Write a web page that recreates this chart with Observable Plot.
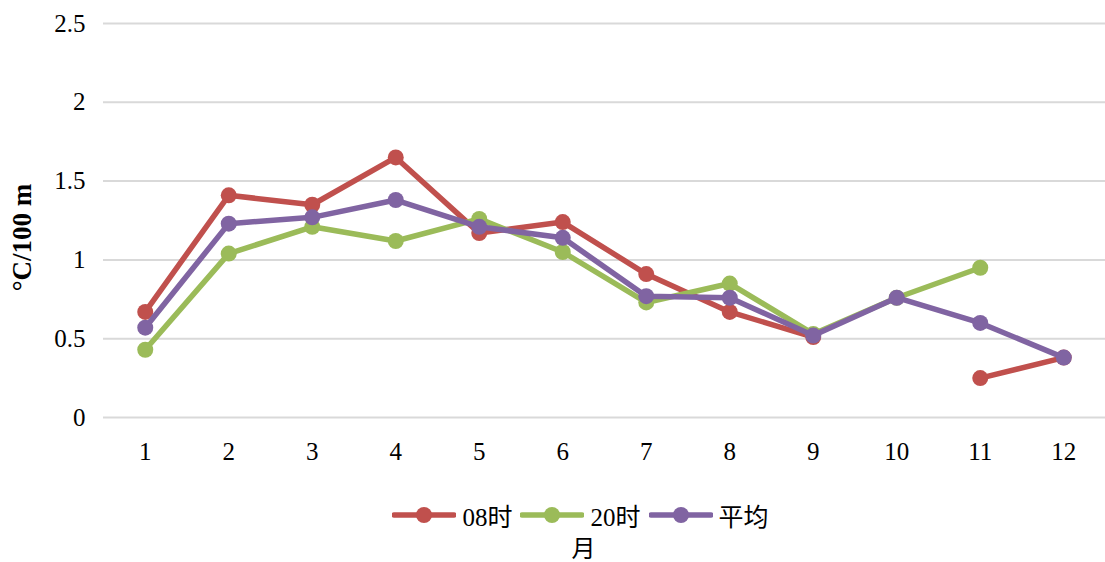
<!DOCTYPE html>
<html>
<head>
<meta charset="utf-8">
<script src="https://cdn.jsdelivr.net/npm/d3@7"></script>
<script src="https://cdn.jsdelivr.net/npm/@observablehq/plot@0.6"></script>
<style>
  html, body { margin: 0; padding: 0; background: #fff; }
  body { width: 1105px; font-family: "Liberation Serif", "Noto Sans CJK SC", serif; }
  #legend { display: flex; justify-content: center; align-items: center; margin-top: 22px; height: 36px; font-size: 25px; padding-left: 56px; }
  .item { display: flex; align-items: center; margin: 0 4px; }
  .item svg { margin-right: 6px; }
  #xlabel { text-align: center; font-size: 24px; margin-top: -4px; padding-left: 62px; font-family: "Noto Sans CJK SC", serif; }
</style>
</head>
<body>
<div id="chart"></div>
<div id="legend"></div>
<div id="xlabel"></div>
<script>
const months = [1, 2, 3, 4, 5, 6, 7, 8, 9, 10, 11, 12];
const seriesNames = ["08时", "20时", "平均"];
const seriesColors = ["#C0504D", "#9BBB59", "#8064A2"];
const v08 = [0.67, 1.41, 1.35, 1.65, 1.17, 1.24, 0.91, 0.67, 0.51, null, 0.25, 0.38];
const v20 = [0.43, 1.04, 1.21, 1.12, 1.26, 1.05, 0.73, 0.85, 0.53, 0.76, 0.95, null];
const vAvg = [0.57, 1.23, 1.27, 1.38, 1.21, 1.14, 0.77, 0.76, 0.52, 0.76, 0.60, 0.38];
const yTicks = [0, 0.5, 1, 1.5, 2, 2.5];
const yLabel = "°C/100 m";
const xLabel = "月";

const seriesValues = [v08, v20, vAvg];
const marks = [
  Plot.gridY(yTicks, {stroke: "#d9d9d9", strokeOpacity: 1, strokeWidth: 2}),
  Plot.axisY(yTicks, {tickSize: 0, tickPadding: 18, fontSize: 25, tickFormat: d => String(d), label: null}),
  Plot.axisX(months, {tickSize: 0, tickPadding: 25, fontSize: 25, label: null}),
  Plot.text([yLabel], {frameAnchor: "left", textAnchor: "middle", rotate: -90, dx: -81, dy: 17, text: d => d, fontSize: 27, fontWeight: "bold", fill: "#000"})
];
seriesValues.forEach((vals, i) => {
  const data = months.map((m, j) => ({month: m, value: vals[j]}));
  marks.push(Plot.line(data, {x: "month", y: "value", stroke: seriesColors[i], strokeWidth: 5.5, curve: "linear"}));
  marks.push(Plot.dot(data.filter(d => d.value != null), {x: "month", y: "value", fill: seriesColors[i], r: 8}));
});

const chart = Plot.plot({
  width: 1105,
  height: 475,
  marginLeft: 103,
  marginRight: 0,
  marginTop: 23,
  marginBottom: 58,
  style: {fontFamily: "'Liberation Serif', serif", fontSize: "25px", color: "#000", background: "#fff"},
  x: {type: "point", domain: months, padding: 0.5, round: false, axis: null},
  y: {domain: [0, 2.5], axis: null},
  marks
});
document.getElementById("chart").appendChild(chart);

const legend = document.getElementById("legend");
seriesNames.forEach((name, i) => {
  const item = document.createElement("div");
  item.className = "item";
  item.innerHTML = `<svg width="64" height="20"><line x1="2" y1="10" x2="62" y2="10" stroke="${seriesColors[i]}" stroke-width="5.5" stroke-linecap="round"/><circle cx="32" cy="10" r="8" fill="${seriesColors[i]}"/></svg><span></span>`;
  item.querySelector("span").textContent = name;
  legend.appendChild(item);
});
document.getElementById("xlabel").textContent = xLabel;
</script>
</body>
</html>
